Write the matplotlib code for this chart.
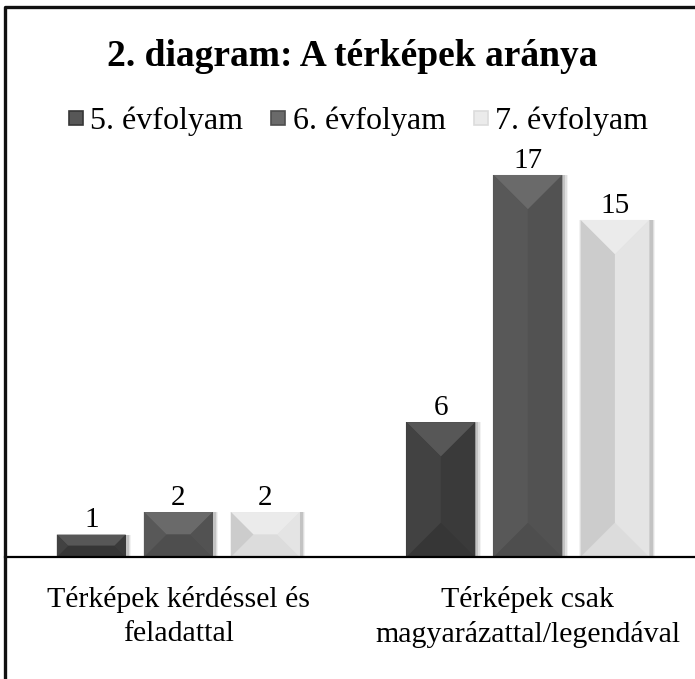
import matplotlib.pyplot as plt
import numpy as np
from matplotlib.patches import Polygon
from matplotlib.lines import Line2D

plt.rcParams['font.family'] = ['Liberation Serif', 'DejaVu Serif']

categories = ['Térképek kérdéssel és\nfeladattal', 'Térképek csak\nmagyarázattal/legendával']
series_names = ['5. évfolyam', '6. évfolyam', '7. évfolyam']
values = {
    '5. évfolyam': [1, 6],
    '6. évfolyam': [2, 17],
    '7. évfolyam': [2, 15],
}
# base, top face, bottom face, left face, right face
shades = {
    '5. évfolyam': ['#3c3c3c', '#575757', '#363636', '#424242', '#3a3a3a'],
    '6. évfolyam': ['#545454', '#6a6a6a', '#4e4e4e', '#585858', '#525252'],
    '7. évfolyam': ['#e2e2e2', '#ebebeb', '#dcdcdc', '#cccccc', '#e4e4e4'],
}

W, H = 695, 679
fig = plt.figure(figsize=(W / 100, H / 100), dpi=100)
ax = fig.add_axes([5 / W, (H - 557) / H, 690 / W, 404.5 / H])
ax.set_xlim(-0.496, 1.478)
ax.set_ylim(0, 18)

x = np.arange(len(categories))
width = 0.197
step = 0.249

# pixels per data unit, used to keep the bevel at 45 degrees
px_x = 690 / (1.478 + 0.496)
px_y = 404.5 / 18


def bevel(x0, w, h, cols):
    wp, hp = w * px_x, h * px_y
    d = min(wp, hp) / 2
    dx, dy = d / px_x, d / px_y
    x1, xc = x0 + w, x0 + w / 2
    if hp >= wp:
        a, b = (xc, h - dy), (xc, dy)
        top = [(x0, h), (x1, h), a]
        bot = [(x0, 0), (x1, 0), b]
        left = [(x0, 0), (x0, h), a, b]
        right = [(x1, 0), (x1, h), a, b]
    else:
        a, b = (x0 + dx, h / 2), (x1 - dx, h / 2)
        top = [(x0, h), (x1, h), b, a]
        bot = [(x0, 0), (x1, 0), b, a]
        left = [(x0, 0), (x0, h), a]
        right = [(x1, 0), (x1, h), b]
    for pts, c in [(top, cols[1]), (bot, cols[2]), (left, cols[3]), (right, cols[4])]:
        ax.add_patch(Polygon(pts, closed=True, facecolor=c, edgecolor='none', zorder=3))


for i, name in enumerate(series_names):
    pos = x + (i - 1) * step
    # soft shadow, mostly to the right
    for grow, alpha in [(0.010, 0.05), (0.006, 0.08), (0.003, 0.12)]:
        ax.bar(pos + 0.006, values[name], width + 2 * grow,
               color='black', alpha=alpha, zorder=1, linewidth=0)
    bars = ax.bar(pos, values[name], width, color=shades[name][0], zorder=2, linewidth=0)
    for rect, v in zip(bars, values[name]):
        bevel(rect.get_x(), rect.get_width(), v, shades[name])
        ax.annotate(str(v), (rect.get_x() + rect.get_width() / 2, v),
                    xytext=(0, 1), textcoords='offset points', ha='center', va='bottom',
                    fontsize=21)

for s in ['top', 'right', 'left']:
    ax.spines[s].set_visible(False)
ax.spines['bottom'].set_linewidth(1.6)
ax.spines['bottom'].set_zorder(5)
ax.set_yticks([])
ax.set_xticks(x)
ax.set_xticklabels(categories, fontsize=21.5, linespacing=1.38)
ax.tick_params(axis='x', length=0, pad=21)

fig.text(0.507, (H - 56) / H, '2. diagram: A térképek aránya', ha='center', va='center',
         fontsize=27, fontweight='bold')

# square legend keys
handles = [Line2D([], [], marker='s', linestyle='none', markersize=9.5,
                  markerfacecolor=shades[n][1], markeredgecolor=shades[n][2],
                  markeredgewidth=1.2) for n in series_names]
fig.legend(handles, series_names, loc='center', bbox_to_anchor=(0.515, (H - 121) / H),
           ncol=3, frameon=False, fontsize=23, handlelength=0.5,
           handletextpad=0.2, columnspacing=0.85)

# frame of the picture (top and left edges visible)
fig.add_artist(Line2D([5 / W, 5 / W, 1], [0, 1 - 7 / H, 1 - 7 / H],
                      transform=fig.transFigure, color='#111111', linewidth=2.4))

plt.savefig('out.png', dpi=100)
